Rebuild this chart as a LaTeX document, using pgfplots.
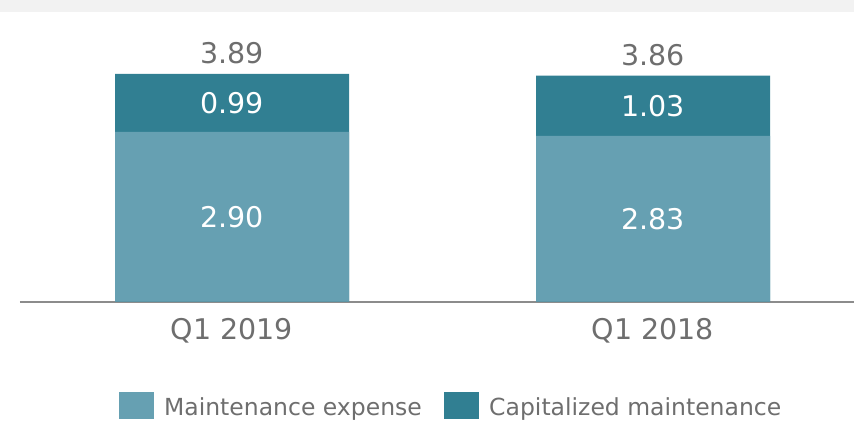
\documentclass[border=0pt]{standalone}
\usepackage{pgfplots}
\pgfplotsset{compat=1.18}
\usepackage{fontspec}
\setmainfont{DejaVu Sans}
\definecolor{lightteal}{HTML}{66A0B2}
\definecolor{darkteal}{HTML}{317F92}
\definecolor{textgrey}{HTML}{6E6E6E}
\definecolor{axisgrey}{HTML}{8C8C8C}
\definecolor{bandgrey}{HTML}{F2F2F2}
\begin{document}
\begin{tikzpicture}[x=1pt,y=1pt]
\path[use as bounding box] (0,0) rectangle (854,432);
\fill[bandgrey] (0,420) rectangle (854,432);
\begin{axis}[
  at={(20pt,130.5pt)}, anchor=south west,
  scale only axis, width=834pt, height=263.25pt,
  xmin=-0.5036, xmax=1.4774, ymin=0, ymax=4.5,
  axis x line*=bottom, axis y line=none,
  every outer x axis line/.append style={draw=axisgrey, line width=2pt, -},
  xtick={0,1}, xticklabels={Q1 2019, Q1 2018},
  major tick length=0pt,
  xticklabel style={text=textgrey, font=\fontsize{28.5}{30}\selectfont, yshift=-13pt},
  /pgf/number format/assume math mode=true,
  clip=false,
  legend columns=2,
  legend style={at={(0.5156,-0.3924)}, anchor=center, draw=none, fill=none,
    inner sep=0pt,
    nodes={inner sep=0pt, text=textgrey, font=\fontsize{23.5}{26}\selectfont},
    /tikz/column 1/.style={column sep=11pt},
    /tikz/column 2/.style={column sep=22pt},
    /tikz/column 3/.style={column sep=11pt}},
]
\addlegendimage{legend image code/.code={\fill[lightteal] (0pt,-10pt) rectangle (34pt,16pt);}}
\addlegendentry{Maintenance expense}
\addlegendimage{legend image code/.code={\fill[darkteal] (0pt,-10pt) rectangle (34pt,16pt);}}
\addlegendentry{Capitalized maintenance}
% total bar (maintenance expense + capitalized maintenance)
\addplot[ybar, bar width=234pt, bar shift=0pt, fill=darkteal, draw=none, forget plot,
  nodes near coords, point meta=y,
  nodes near coords style={anchor=center, yshift=20.5pt, text=textgrey,
    font=\fontsize{28.5}{30}\selectfont,
    /pgf/number format/.cd, fixed, precision=2, zerofill, assume math mode=true}]
  coordinates {(0,3.89) (1,3.86)};
% maintenance expense
\addplot[ybar, bar width=234pt, bar shift=0pt, fill=lightteal, draw=none, forget plot]
  coordinates {(0,2.90) (1,2.83)};
% segment labels
\addplot[draw=none, mark=none, forget plot, nodes near coords, point meta=explicit symbolic,
  nodes near coords style={anchor=center, text=white, font=\fontsize{28.5}{30}\selectfont}]
  coordinates {(0,1.45)[2.90] (1,1.415)[2.83] (0,3.395)[0.99] (1,3.345)[1.03]};
\end{axis}
\end{tikzpicture}
\end{document}
